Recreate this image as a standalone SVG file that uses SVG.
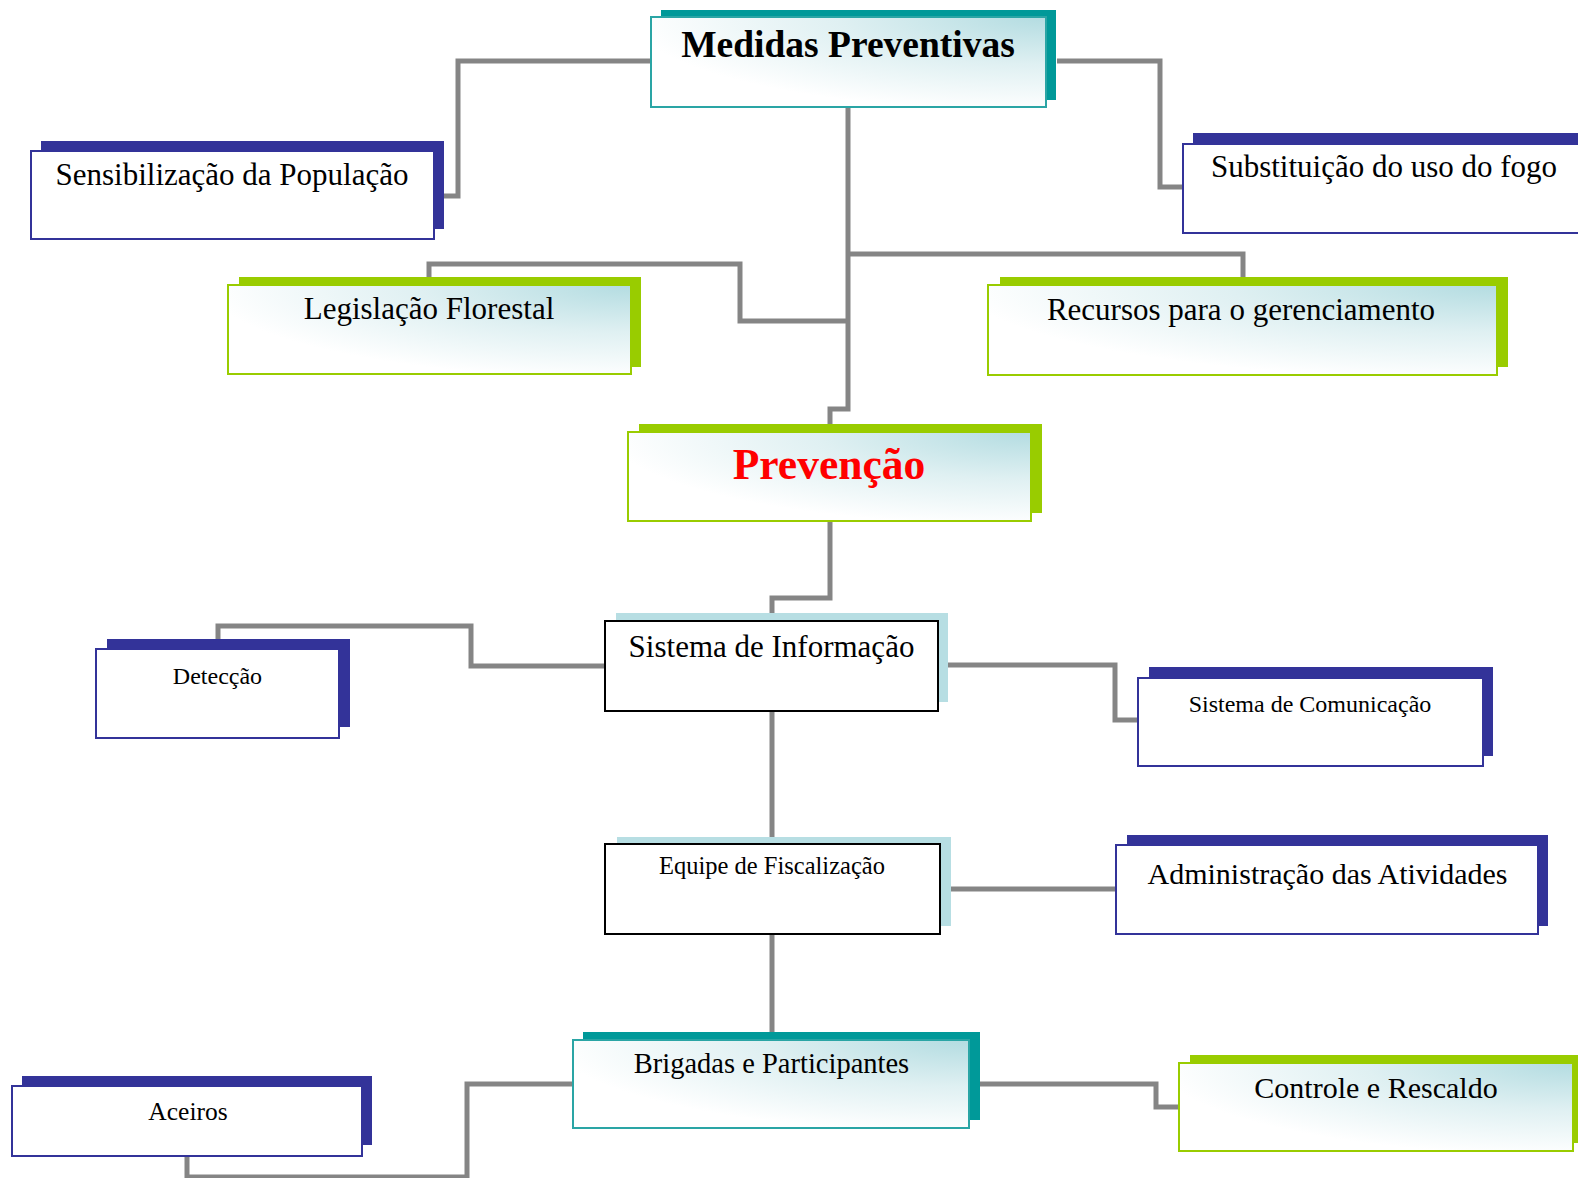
<svg xmlns="http://www.w3.org/2000/svg" width="1578" height="1178" viewBox="0 0 1578 1178">
<defs>
<radialGradient id="g" cx="1" cy="0" r="1.05">
<stop offset="0" stop-color="#b3dce1"/>
<stop offset="0.5" stop-color="#dff0f2"/>
<stop offset="1" stop-color="#ffffff"/>
</radialGradient>
</defs>
<style>
.c{fill:none;stroke:#858585;stroke-width:5;stroke-linejoin:miter}
.sb{fill:#333399}.st{fill:#009999}.sg{fill:#99cc00}.sl{fill:#b7dee3}
.mb{fill:#fff;stroke:#333399;stroke-width:2}
.mt{fill:url(#g);stroke:#2aa5a5;stroke-width:2}
.mg{fill:url(#g);stroke:#99cc00;stroke-width:2}
.mk{fill:#fff;stroke:#000;stroke-width:2}
text{font-family:"Liberation Serif","Times New Roman",serif;text-anchor:middle;fill:#000}
</style>
<g id="connectors">
<path class="c" d="M651 61 H458 V196 H444"/>
<path class="c" d="M1057 61 H1160 V187 H1183"/>
<path class="c" d="M848 107 V409 H830 V424"/>
<path class="c" d="M848 321 H740 V264 H429 V277"/>
<path class="c" d="M848 254 H1243 V277"/>
<path class="c" d="M830 521 V598 H772 V613"/>
<path class="c" d="M218 639 V626 H471 V666 H605"/>
<path class="c" d="M948 665 H1115 V720 H1138"/>
<path class="c" d="M772 711 V837"/>
<path class="c" d="M951 889 H1116"/>
<path class="c" d="M772 934 V1032"/>
<path class="c" d="M980 1084 H1156 V1107 H1179"/>
<path class="c" d="M573 1084 H467 V1177 H187 V1156"/>
</g>
<g id="medidas">
<rect class="st" x="661" y="10" width="395" height="90"/>
<rect class="mt" x="651" y="17" width="395" height="90"/>
<text x="848" y="57" font-size="37.5" font-weight="bold">Medidas Preventivas</text>
</g>
<g id="sensibilizacao">
<rect class="sb" x="41" y="141" width="403" height="88"/>
<rect class="mb" x="31" y="151" width="403" height="88"/>
<text x="232" y="185" font-size="31">Sensibilização da População</text>
</g>
<g id="substituicao">
<rect class="sb" x="1193" y="133" width="420" height="89"/>
<rect class="mb" x="1183" y="144" width="420" height="89"/>
<text x="1384" y="177" font-size="31">Substituição do uso do fogo</text>
</g>
<g id="legislacao">
<rect class="sg" x="239" y="277" width="402" height="90"/>
<rect class="mg" x="228" y="285" width="403" height="89"/>
<text x="429" y="319" font-size="31">Legislação Florestal</text>
</g>
<g id="recursos">
<rect class="sg" x="1000" y="277" width="508" height="90"/>
<rect class="mg" x="988" y="285" width="509" height="90"/>
<text x="1241" y="320" font-size="31">Recursos para o gerenciamento</text>
</g>
<g id="prevencao">
<rect class="sg" x="639" y="424" width="403" height="89"/>
<rect class="mg" x="628" y="432" width="403" height="89"/>
<text x="829" y="479" font-size="43.5" font-weight="bold" fill="#ff0000" style="fill:#ff0000">Prevenção</text>
</g>
<g id="sistema-informacao">
<rect class="sl" x="616" y="613" width="332" height="89"/>
<rect class="mk" x="605" y="621" width="333" height="90"/>
<text x="771.5" y="657" font-size="31">Sistema de Informação</text>
</g>
<g id="deteccao">
<rect class="sb" x="107" y="639" width="243" height="88"/>
<rect class="mb" x="96" y="649" width="243" height="89"/>
<text x="217.5" y="684" font-size="24">Detecção</text>
</g>
<g id="sistema-comunicacao">
<rect class="sb" x="1149" y="667" width="344" height="89"/>
<rect class="mb" x="1138" y="678" width="345" height="88"/>
<text x="1310" y="712" font-size="24">Sistema de Comunicação</text>
</g>
<g id="equipe">
<rect class="sl" x="617" y="837" width="334" height="89"/>
<rect class="mk" x="605" y="844" width="335" height="90"/>
<text x="772" y="874" font-size="24.5">Equipe de Fiscalização</text>
</g>
<g id="administracao">
<rect class="sb" x="1127" y="835" width="421" height="91"/>
<rect class="mb" x="1116" y="845" width="422" height="89"/>
<text x="1327.5" y="884" font-size="30">Administração das Atividades</text>
</g>
<g id="brigadas">
<rect class="st" x="583" y="1032" width="397" height="88"/>
<rect class="mt" x="573" y="1040" width="396" height="88"/>
<text x="771.5" y="1073" font-size="28.5">Brigadas e Participantes</text>
</g>
<g id="controle">
<rect class="sg" x="1190" y="1055" width="400" height="88"/>
<rect class="mg" x="1179" y="1063" width="394" height="88"/>
<text x="1376" y="1098" font-size="30">Controle e Rescaldo</text>
</g>
<g id="aceiros">
<rect class="sb" x="22" y="1076" width="350" height="69"/>
<rect class="mb" x="12" y="1086" width="350" height="70"/>
<text x="188" y="1120" font-size="25.5">Aceiros</text>
</g>
</svg>
